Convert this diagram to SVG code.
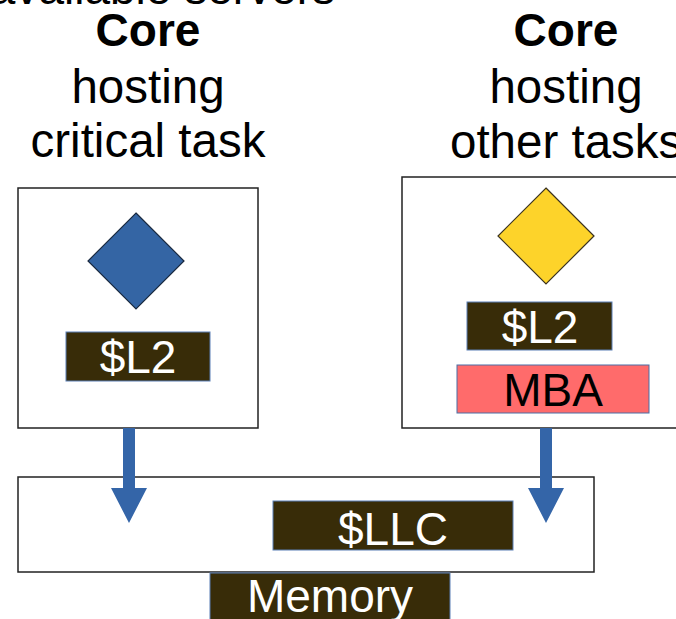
<svg xmlns="http://www.w3.org/2000/svg" width="676" height="619" viewBox="0 0 676 619">
  <style>
    text { font-family: "Liberation Sans", Arial, sans-serif; font-size: 46px; }
    .title { font-weight: bold; fill: #000; text-anchor: middle; }
    .sub { fill: #000; text-anchor: middle; font-size: 47.5px; }
    .sub-left { fill: #000; text-anchor: start; font-size: 47.5px; }
    .frame { fill: #ffffff; stroke: #222; stroke-width: 1.5; }
    .cache { fill: #382c08; stroke: #5a7fb5; stroke-width: 1; }
    .cache-label { fill: #ffffff; text-anchor: middle; }
    .mba { fill: #ff6b6b; stroke: #4a6fa5; stroke-width: 1; }
    .flow { fill: #3465a8; }
  </style>

  <rect width="676" height="619" fill="#ffffff"/>

  <!-- heading clipped at the top edge -->
  <text x="335" y="4" text-anchor="end" fill="#000">available servers</text>

  <!-- shared last-level cache and memory -->
  <g id="llc">
    <rect class="frame" x="18" y="477" width="576" height="95"/>
    <rect class="cache" x="273" y="501" width="240" height="49"/>
    <text class="cache-label" x="393" y="545">$LLC</text>
  </g>
  <g id="memory">
    <rect class="cache" x="210" y="573" width="240" height="60"/>
    <text class="cache-label" x="330" y="612">Memory</text>
  </g>

  <!-- critical-task core -->
  <g id="core-critical">
    <text class="title" x="148" y="46">Core</text>
    <text class="sub" x="148" y="103">hosting</text>
    <text class="sub" x="148" y="157">critical task</text>
    <rect class="frame" x="18" y="188" width="240" height="240"/>
    <polygon points="136,213 184,261 136,309 88,261" fill="#3465a4" stroke="#1a2a40" stroke-width="1.2"/>
    <rect class="cache" x="66" y="332" width="144" height="49"/>
    <text class="cache-label" x="138" y="373">$L2</text>
  </g>

  <!-- other-tasks core -->
  <g id="core-other">
    <text class="title" x="566" y="46">Core</text>
    <text class="sub" x="566" y="103">hosting</text>
    <text class="sub-left" x="450" y="158">other tasks</text>
    <rect class="frame" x="402" y="177" width="300" height="251"/>
    <polygon points="546,188 594,236 546,284 498,236" fill="#fdd32a" stroke="#3a3220" stroke-width="1.2"/>
    <rect class="cache" x="467" y="302" width="145" height="48"/>
    <text class="cache-label" x="540" y="343">$L2</text>
    <g id="mba">
      <rect class="mba" x="457" y="365" width="192" height="48"/>
      <text x="553" y="406" text-anchor="middle" fill="#000">MBA</text>
    </g>
  </g>

  <!-- memory traffic from each core into the shared cache -->
  <g id="connectors">
    <polygon class="flow" points="123,428 135,428 135,488 147,488 129,523 111,488 123,488"/>
    <polygon class="flow" points="540,428 552,428 552,488 564,488 546,523 528,488 540,488"/>
  </g>
</svg>
